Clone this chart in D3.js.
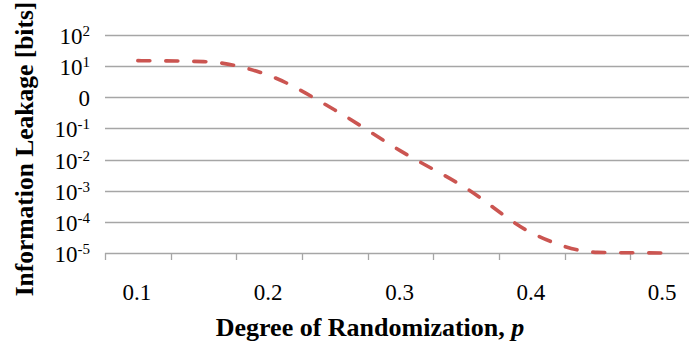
<!DOCTYPE html>
<html>
<head>
<meta charset="utf-8">
<script src="https://cdn.jsdelivr.net/npm/d3@7"></script>
<style>
  html, body { margin: 0; padding: 0; background: #fff; }
  svg { display: block; }
</style>
</head>
<body>
<svg id="chart" width="689" height="345" font-family="'Liberation Serif', 'Times New Roman', serif"></svg>
<script>
// Degree of randomization p and the resulting information leakage (bits)
const pValues = [0.1, 0.15, 0.2, 0.25, 0.3, 0.35, 0.4, 0.45, 0.5];
const leakage = [15, 14, 5, 0.39, 0.019, 0.0012, 4.4e-5, 1.05e-5, 1.0e-5];

// Axis ticks and labels
const xTickLabels = ["0.1", "0.2", "0.3", "0.4", "0.5"];
const yTickValues = [1e2, 1e1, 1, 1e-1, 1e-2, 1e-3, 1e-4, 1e-5];
const yTickBases = ["10", "10", "0", "10", "10", "10", "10", "10"];
const yTickExps = ["2", "1", "", "-1", "-2", "-3", "-4", "-5"];

const svg = d3.select("#chart");
const plotLeft = 105, plotRight = 696, plotTop = 35, plotBottom = 253;

// Category-style axis: each p value sits in the middle of a 0.05-wide slot
const x = d3.scaleLinear().domain([0.075, 0.525]).range([plotLeft, plotRight]);
const y = d3.scaleLog().domain([1e-5, 1e2]).range([plotBottom, plotTop]);

// Horizontal gridlines
svg.append("g")
  .selectAll("line")
  .data(yTickValues.filter(v => v > 1e-5))
  .join("line")
  .attr("x1", plotLeft).attr("x2", 689)
  .attr("y1", d => Math.round(y(d)) + 0.5).attr("y2", d => Math.round(y(d)) + 0.5)
  .attr("stroke", "#a6a6a6").attr("stroke-width", 1.3);

// Bottom axis line with ticks at slot boundaries
const xBoundaries = d3.range(0, pValues.length + 1).map(i => 0.075 + i * 0.05);
const xAxis = svg.append("g");
xAxis.append("line")
  .attr("x1", plotLeft).attr("x2", 689)
  .attr("y1", Math.round(y(1e-5)) + 0.5).attr("y2", Math.round(y(1e-5)) + 0.5)
  .attr("stroke", "#a6a6a6").attr("stroke-width", 1.3);
xAxis.selectAll("line.tick")
  .data(xBoundaries)
  .join("line")
  .attr("class", "tick")
  .attr("x1", d => Math.round(x(d)) + 0.5).attr("x2", d => Math.round(x(d)) + 0.5)
  .attr("y1", plotBottom).attr("y2", plotBottom + 7)
  .attr("stroke", "#a6a6a6").attr("stroke-width", 1.3);

// X tick labels
xAxis.selectAll("text")
  .data(xTickLabels)
  .join("text")
  .attr("x", d => x(+d) - 1)
  .attr("y", 300)
  .attr("text-anchor", "middle")
  .attr("font-size", 23)
  .text(d => d);

// Y tick labels with superscript exponents
const yLab = svg.append("g").selectAll("text")
  .data(yTickValues)
  .join("text")
  .attr("x", 90)
  .attr("y", d => y(d) + 9)
  .attr("text-anchor", "end")
  .attr("font-size", 23);
yLab.append("tspan").text((d, i) => yTickBases[i]);
yLab.append("tspan")
  .attr("font-size", 15)
  .attr("dy", -8)
  .text((d, i) => yTickExps[i]);

// Leakage curve
const line = d3.line()
  .x((d, i) => x(pValues[i]))
  .y(d => y(d))
  .curve(d3.curveMonotoneX);

svg.append("path")
  .datum(leakage)
  .attr("d", line)
  .attr("fill", "none")
  .attr("stroke", "#cb5551")
  .attr("stroke-width", 3.6)
  .attr("stroke-linecap", "round")
  .attr("stroke-dasharray", "12 16");

// Axis titles
svg.append("text")
  .attr("x", 370).attr("y", 336)
  .attr("text-anchor", "middle")
  .attr("font-size", 26)
  .attr("font-weight", "bold")
  .call(t => {
    t.append("tspan").text("Degree of Randomization, ");
    t.append("tspan").attr("font-style", "italic").text("p");
  });

svg.append("text")
  .attr("transform", "translate(33,149) rotate(-90)")
  .attr("text-anchor", "middle")
  .attr("font-size", 25.5)
  .attr("font-weight", "bold")
  .text("Information Leakage [bits]");
</script>
</body>
</html>
